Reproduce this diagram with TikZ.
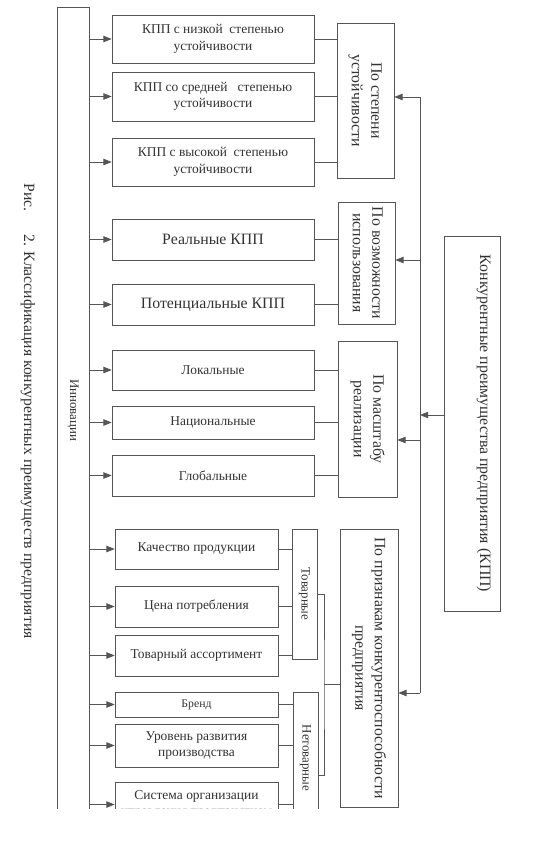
\documentclass[tikz,border=0pt]{standalone}
\usepackage{fontspec}
\setmainfont{Liberation Serif}
\usepackage{graphicx}
\usetikzlibrary{arrows.meta}

\definecolor{ink}{HTML}{333333}
\definecolor{edge}{HTML}{555555}
\newcommand{\vtext}[1]{\rotatebox{-90}{\begin{tabular}{@{}c@{}}#1\end{tabular}}}

\begin{document}
\begin{tikzpicture}[x=0.03cm, y=-0.03cm,
  box/.style={draw=edge, line width=0.6pt, text=ink, align=center, inner sep=1pt},
  wbox/.style={box, minimum width=6.06cm, font=\fontsize{11.5}{14}\selectfont},
  nbox/.style={box, minimum width=4.89cm, font=\fontsize{11.5}{14}\selectfont},
  gbox/.style={box, font=\fontsize{13.5}{16.5}\selectfont},
  sbox/.style={box, minimum width=0.75cm, font=\fontsize{11}{13}\selectfont},
  conn/.style={draw=edge, line width=0.6pt},
  arr/.style={conn, -{Triangle[length=7pt, width=5.5pt]}}
]
  \useasboundingbox (0,0) rectangle (543,842);

  % Caption
  \node[text=ink, font=\fontsize{13.4}{15}\selectfont] (cap) at (28,411)
    {\rotatebox{-90}{Рис.\hspace{0.7cm}2. Классификация конкурентных преимуществ предприятия}};

  \begin{scope}
  \clip (0,0) rectangle (543,808);

  % Innovation column
  \node[box, minimum width=0.96cm, minimum height=24.18cm, font=\fontsize{11}{13}\selectfont]
    (innov) at (73,410) {\rotatebox{-90}{Инновации}};

  % Left boxes
  \node[wbox, minimum height=1.44cm] (b1) at (213,39) {КПП с низкой\ \ степенью\\устойчивости};
  \node[wbox, minimum height=1.47cm] (b2) at (213,96.5) {КПП со средней\ \ \ степенью\\устойчивости};
  \node[wbox, minimum height=1.44cm] (b3) at (213,162) {КПП с высокой\ \ степенью\\устойчивости};
  \node[wbox, minimum height=1.23cm, font=\fontsize{13.5}{16}\selectfont] (b4) at (213,239.5) {Реальные КПП};
  \node[wbox, minimum height=1.23cm, font=\fontsize{13.5}{16}\selectfont] (b5) at (213,304.5) {Потенциальные КПП};
  \node[wbox, minimum height=1.2cm] (b6) at (213,370) {Локальные};
  \node[wbox, minimum height=0.99cm] (b7) at (213,422.5) {Национальные};
  \node[wbox, minimum height=1.23cm] (b8) at (213,475.5) {Глобальные};
  \node[nbox, minimum height=1.2cm] (b9) at (196.5,549) {Качество продукции};
  \node[nbox, minimum height=1.23cm] (b10) at (196.5,606.5) {Цена потребления};
  \node[nbox, minimum height=1.23cm] (b11) at (196.5,655.5) {Товарный ассортимент};
  \node[nbox, minimum height=0.75cm, font=\fontsize{10}{12}\selectfont] (b12) at (196.5,704.5) {Бренд};
  \node[nbox, minimum height=1.29cm] (b13) at (196.5,745.5) {Уровень развития\\производства};
  \node[nbox, minimum height=1.35cm] (b14) at (196.5,804.5) {Система организации\\управления предприятием};

  % Group boxes
  \node[gbox, minimum width=1.71cm, minimum height=4.65cm] (g1) at (365.5,100.5) {\vtext{По степени\\устойчивости}};
  \node[gbox, minimum width=1.71cm, minimum height=3.66cm] (g2) at (366.5,263) {\vtext{По возможности\\использования}};
  \node[gbox, minimum width=1.77cm, minimum height=4.68cm] (g3) at (367.5,419) {\vtext{По масштабу\\реализации}};
  \node[gbox, minimum width=1.74cm, minimum height=8.34cm] (g4) at (369,668) {\vtext{По признакам конкурентоспособности\\предприятия}};
  \node[sbox, minimum height=3.9cm] (tov) at (304.5,594) {\rotatebox{-90}{Товарные}};
  \node[sbox, minimum height=3.96cm] (netov) at (305.5,758) {\rotatebox{-90}{Нетоварные}};

  % Main box
  \node[box, minimum width=1.68cm, minimum height=11.25cm,
    label={[xshift=0.36cm, text=ink, font=\fontsize{13.5}{16}\selectfont]center:\rotatebox{-90}{Конкурентные преимущества предприятия (КПП)}}]
    (kpp) at (472,423.5) {};

  % Arrows from innovation column
  \foreach \b in {b1,b2,b3,b4,b5,b6,b7,b8,b9,b10,b11,b12,b13,b14}
    \draw[arr] (innov.east |- \b.west) -- (\b.west);

  % Links to groups
  \foreach \b/\g in {b1/g1,b2/g1,b3/g1,b4/g2,b5/g2,b6/g3,b7/g3,b8/g3,
                     b9/tov,b10/tov,b11/tov,b12/netov,b13/netov,b14/netov}
    \draw[conn] (\b.east) -- (\g.west |- \b.east);

  % Bracket
  \coordinate (brk) at (324,684);
  \coordinate (netovj) at (318,775);
  \draw[conn] (tov.east) -| (brk) |- (netovj);
  \draw[conn] (brk) -- (g4.west |- brk);

  % Bus
  \coordinate (bus1) at (420,97);
  \coordinate (bus2) at (420,260);
  \coordinate (bus3) at (420,440);
  \coordinate (bus4) at (420,693);
  \coordinate (busin) at (420,415);
  \draw[conn] (bus1) -- (bus4);
  \draw[arr] (bus1) -- (g1.east |- bus1);
  \draw[arr] (bus2) -- (g2.east |- bus2);
  \draw[arr] (bus3) -- (g3.east |- bus3);
  \draw[arr] (bus4) -- (g4.east |- bus4);
  \draw[arr] (kpp.west |- busin) -- (busin);
  \end{scope}
\end{tikzpicture}
\end{document}
